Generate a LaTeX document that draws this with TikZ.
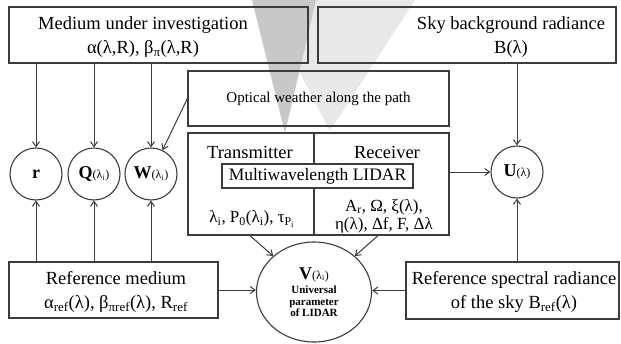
\documentclass[tikz,border=0pt]{standalone}
\usepackage{fontspec}
\setmainfont{Liberation Serif}
\usepackage{tikz}
\usetikzlibrary{arrows.meta,positioning,shapes.geometric}
\definecolor{linegray}{HTML}{3C3C3C}
\definecolor{beamdark}{HTML}{C8C8C8}
\definecolor{beamlight}{HTML}{E8E8E8}
\newcommand{\sbs}[1]{\textsubscript{#1}}
\newcommand{\pname}[2]{\textbf{#1}{\fontsize{12}{12}\selectfont\mdseries #2}}

\begin{document}
\begin{tikzpicture}[
    x=1pt, y=-1pt,
    box/.style={
        rectangle,
        draw=linegray,
        line width=1.2pt,
        inner sep=0pt
    },
    boxtext/.style={
        align=center,
        inner sep=0pt,
        font=\fontsize{18.5}{24}\selectfont
    },
    param/.style={
        circle,
        draw=linegray,
        line width=1.1pt,
        minimum size=52pt,
        inner sep=0pt,
        font=\fontsize{18}{20}\selectfont
    },
    arrow/.style={-{Straight Barb[length=5pt,width=7pt]}, line width=1pt, draw=linegray}
]
    \useasboundingbox (0,0) rectangle (621,343);
    \fill[beamlight] (262,0) -- (415,0) -- (330,131) -- cycle;
    \fill[beamdark] (252,0) -- (316,0) -- (285,133) -- cycle;

    \node[box, minimum width=299pt, minimum height=56pt] (medium) at (158.5,35) {};
    \node[boxtext] (mediumtext) at (143,37)
        {Medium under investigation\\α(λ,R), β\sbs{π}(λ,R)};
    \node[box, minimum width=298pt, minimum height=56pt] (sky) at (467,35) {};
    \node[boxtext] (skytext) at (511,37) {Sky background radiance\\B(λ)};

    \node[box, minimum width=261pt, minimum height=55pt, font=\fontsize{15}{17}\selectfont]
        (weather) at (318.5,98.5) {Optical weather along the path};

    \node[box, minimum width=261pt, minimum height=102pt] (lidar) at (318.5,184) {};
    \coordinate (split) at (314,0);
    \draw[linegray, line width=1.2pt] (split |- lidar.north) -- (split |- lidar.south);
    \node[boxtext] (tx) at (250,152) {Transmitter};
    \node[boxtext] (rx) at (387,152) {Receiver};
    \node[box, fill=white, minimum width=191pt, minimum height=24pt,
        font=\fontsize{17.5}{20}\selectfont] (multi) at (317.5,176) {Multiwavelength LIDAR};
    \node[boxtext, font=\fontsize{17}{18}\selectfont] (txpar) at (252,219)
        {λ\sbs{i}, P\sbs{0}(λ\sbs{i}), τ\sbs{P\sbs{i}}};
    \node[boxtext, font=\fontsize{17}{18}\selectfont] (rxpar) at (384,216)
        {A\sbs{r}, Ω, ξ(λ),\\η(λ), Δf, F, Δλ};

    \node[param] (r) at (36,174) {\textbf{r}};
    \node[param] (Q) at (94,174) {\pname{Q}{(λ\sbs{i})}};
    \node[param] (W) at (151,174) {\pname{W}{(λ\sbs{i})}};
    \node[param] (U) at (517,172) {\pname{U}{(λ)}};

    \node[ellipse, draw=linegray, line width=1.1pt, minimum width=115pt, minimum height=100pt,
        inner sep=0pt, align=center, font=\fontsize{11}{11.5}\selectfont\bfseries] (V) at (314,292)
        {{\fontsize{18}{20}\selectfont\pname{V}{(λ\sbs{i})}}\\[3pt]
         Universal\\parameter\\of LIDAR};

    \node[box, minimum width=209pt, minimum height=56pt] (refmed) at (113.5,290) {};
    \node[boxtext] (refmedtext) at (116,292)
        {Reference medium\\α\sbs{ref}(λ), β\sbs{πref}(λ), R\sbs{ref}};
    \node[box, minimum width=213pt, minimum height=57pt] (refsky) at (512.5,290.5) {};
    \node[boxtext] (refskytext) at (514,292)
        {Reference spectral radiance\\of the sky B\sbs{ref}(λ)};

    \draw[arrow] (r |- medium.south) -- (r);
    \draw[arrow] (Q |- medium.south) -- (Q);
    \draw[arrow] (W |- medium.south) -- (W);
    \draw[arrow] (r |- refmed.north) -- (r);
    \draw[arrow] (Q |- refmed.north) -- (Q);
    \draw[arrow] (W |- refmed.north) -- (W);
    \draw[arrow] (weather.west) -- (W);
    \draw[arrow] (U |- sky.south) -- (U);
    \draw[arrow] (U |- refsky.north) -- (U);
    \draw[arrow] (lidar.east |- U) -- (U);
    \draw[arrow] ([xshift=-68.5pt]lidar.south) -- (V);
    \draw[arrow] ([xshift=59.5pt]lidar.south) -- (V);
    \draw[arrow] (refmed.east) -- (refmed.east -| V.west);
    \draw[arrow] (refsky.west) -- (refsky.west -| V.east);
\end{tikzpicture}
\end{document}
